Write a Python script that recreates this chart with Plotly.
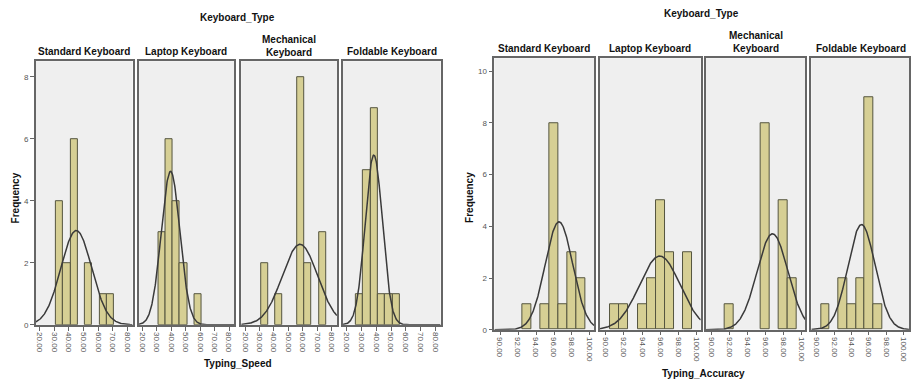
import numpy as np
import plotly.graph_objects as go

W, H = 911, 389

panels = ["Standard Keyboard", "Laptop Keyboard", "Mechanical<br>Keyboard", "Foldable Keyboard"]

# ---- Typing_Speed (left chart) ----
speed_bin_width = 5
speed_centers = [
    [33.5, 38.5, 43.5, 53.5, 63.5, 68.5],
    [33.5, 38.5, 43.5, 48.5, 58.5],
    [33.5, 43.5, 58.5, 63.5, 73.5],
    [28.5, 33.5, 38.5, 43.5, 48.5, 53.5],
]
speed_counts = [
    [4, 2, 6, 2, 1, 1],
    [3, 6, 4, 2, 1],
    [2, 1, 8, 2, 3],
    [1, 5, 7, 1, 1, 1],
]
speed_mean = [45.0, 39.5, 58.0, 38.3]
speed_sd = [10.5, 6.45, 12.3, 5.83]
speed_ticks = [20, 30, 40, 50, 60, 70, 80]
speed_ticktext = ["20.00", "30.00", "40.00", "50.00", "60.00", "70.00", "80.00"]
speed_yticks = [0, 2, 4, 6, 8]

# ---- Typing_Accuracy (right chart) ----
acc_bin_width = 1
acc_centers = [
    [93, 95, 96, 97, 98, 99],
    [91, 92, 94, 95, 96, 97, 99],
    [92, 96, 98, 99],
    [91, 93, 94, 95, 96, 97],
]
acc_counts = [
    [1, 1, 8, 1, 3, 2],
    [1, 1, 1, 2, 5, 3, 3],
    [1, 8, 5, 2],
    [1, 2, 1, 2, 9, 1],
]
acc_mean = [96.55, 95.95, 96.8, 95.15]
acc_sd = [1.53, 2.24, 1.72, 1.57]
acc_ticks = [90, 92, 94, 96, 98, 100]
acc_ticktext = ["90.00", "92.00", "94.00", "96.00", "98.00", "100.00"]
acc_yticks = [0, 2, 4, 6, 8, 10]

# ---- layout geometry (pixels) ----
left_px = [(35, 132), (138, 234), (241, 337), (343, 441)]
left_y = (62, 329)
right_px = [(495, 595), (601, 702), (707, 807), (813, 911)]
right_y = (59, 334)

BAR_FILL = "#D6CF94"
BAR_LINE = "#55553f"
CURVE = "#3a3a3a"
PANEL_BG = "#EFEFEF"
FRAME = "#666666"
TICKFONT = dict(family="Liberation Sans, Arial", size=8, color="#555555")
BOLD = "Liberation Sans, Arial"

fig = go.Figure()
layout = {}
annotations = []


def add_chart(offset, pxs, ypx, centers, counts, width, means, sds, xranges, yrange,
              ticks, ticktext, yticks):
    for i in range(4):
        idx = offset + i + 1
        xa = "xaxis" if idx == 1 else f"xaxis{idx}"
        ya = "yaxis" if idx == 1 else f"yaxis{idx}"
        xr = "x" if idx == 1 else f"x{idx}"
        yr = "y" if idx == 1 else f"y{idx}"
        xrange = xranges[i]
        fig.add_trace(go.Bar(
            x=centers[i], y=counts[i], width=width,
            marker=dict(color=BAR_FILL, line=dict(color=BAR_LINE, width=1)),
            xaxis=xr, yaxis=yr, showlegend=False, hoverinfo="x+y"))
        n = sum(counts[i])
        xs = np.linspace(xrange[0], xrange[1], 300)
        ys = n * width * np.exp(-0.5 * ((xs - means[i]) / sds[i]) ** 2) / (sds[i] * np.sqrt(2 * np.pi))
        fig.add_trace(go.Scatter(
            x=xs, y=ys, mode="lines", line=dict(color=CURVE, width=1.5),
            xaxis=xr, yaxis=yr, showlegend=False, hoverinfo="skip"))
        x0, x1 = pxs[i]
        layout[xa] = dict(
            domain=[x0 / W, min(x1 / W, 1.0)], range=xrange, anchor=yr,
            showgrid=False, zeroline=False, showline=True, mirror=True,
            linecolor=FRAME, linewidth=1.5,
            tickmode="array", tickvals=ticks, ticktext=ticktext,
            tickangle=90, ticks="outside", ticklen=4, tickcolor="#666666",
            tickfont=TICKFONT, fixedrange=True)
        layout[ya] = dict(
            domain=[1 - ypx[1] / H, 1 - ypx[0] / H], range=yrange, anchor=xr,
            showgrid=False, zeroline=False, showline=True, mirror=True,
            linecolor=FRAME, linewidth=1.5,
            tickmode="array", tickvals=yticks,
            ticks="outside" if i == 0 else "", ticklen=4, tickcolor="#666666",
            showticklabels=(i == 0), tickfont=TICKFONT, fixedrange=True)


add_chart(0, left_px, left_y, speed_centers, speed_counts, speed_bin_width,
          speed_mean, speed_sd, [[17.3, 83.6]] * 4, [0, 8.5],
          speed_ticks, speed_ticktext, speed_yticks)
add_chart(4, right_px, right_y, acc_centers, acc_counts, acc_bin_width,
          acc_mean, acc_sd, [[89.37, 100.45]] * 3 + [[89.37, 100.62]], [0, 10.5],
          acc_ticks, acc_ticktext, acc_yticks)


def ann(text, x, y, size=10, angle=0, xanchor="center"):
    annotations.append(dict(
        text=text, x=x / W, y=1 - y / H, xref="paper", yref="paper",
        showarrow=False, textangle=angle, xanchor=xanchor, yanchor="middle",
        font=dict(family=BOLD, size=size, color="#111111")))


# Left chart texts
ann("<b>Keyboard_Type</b>", 237, 18)
for i, (x0, x1) in enumerate(left_px):
    if "<br>" in panels[i]:
        ann("<b>" + panels[i] + "</b>", (x0 + x1) / 2, 47)
    else:
        ann("<b>" + panels[i] + "</b>", (x0 + x1) / 2, 52)
ann("<b>Frequency</b>", 14, 200, angle=-90)
ann("<b>Typing_Speed</b>", 238, 368)

# Right chart texts
ann("<b>Keyboard_Type</b>", 703, 14)
for i, (x0, x1) in enumerate(right_px):
    if "<br>" in panels[i]:
        ann("<b>" + panels[i] + "</b>", (x0 + x1) / 2, 43)
    elif i == 3:
        ann("<b>" + panels[i] + "</b>", 910, 49, xanchor="right")
    else:
        ann("<b>" + panels[i] + "</b>", (x0 + x1) / 2, 49)
ann("<b>Frequency</b>", 470, 200, angle=-90)
ann("<b>Typing_Accuracy</b>", 705, 378)

fig.update_layout(
    width=W, height=H, margin=dict(l=0, r=0, t=0, b=0),
    paper_bgcolor="white", plot_bgcolor=PANEL_BG,
    bargap=0, barmode="overlay", annotations=annotations,
    font=dict(family=BOLD), **layout)

fig.write_html("out.html", config={"displayModeBar": False},
               post_script="document.body.style.margin='0';document.body.style.overflow='hidden';")
